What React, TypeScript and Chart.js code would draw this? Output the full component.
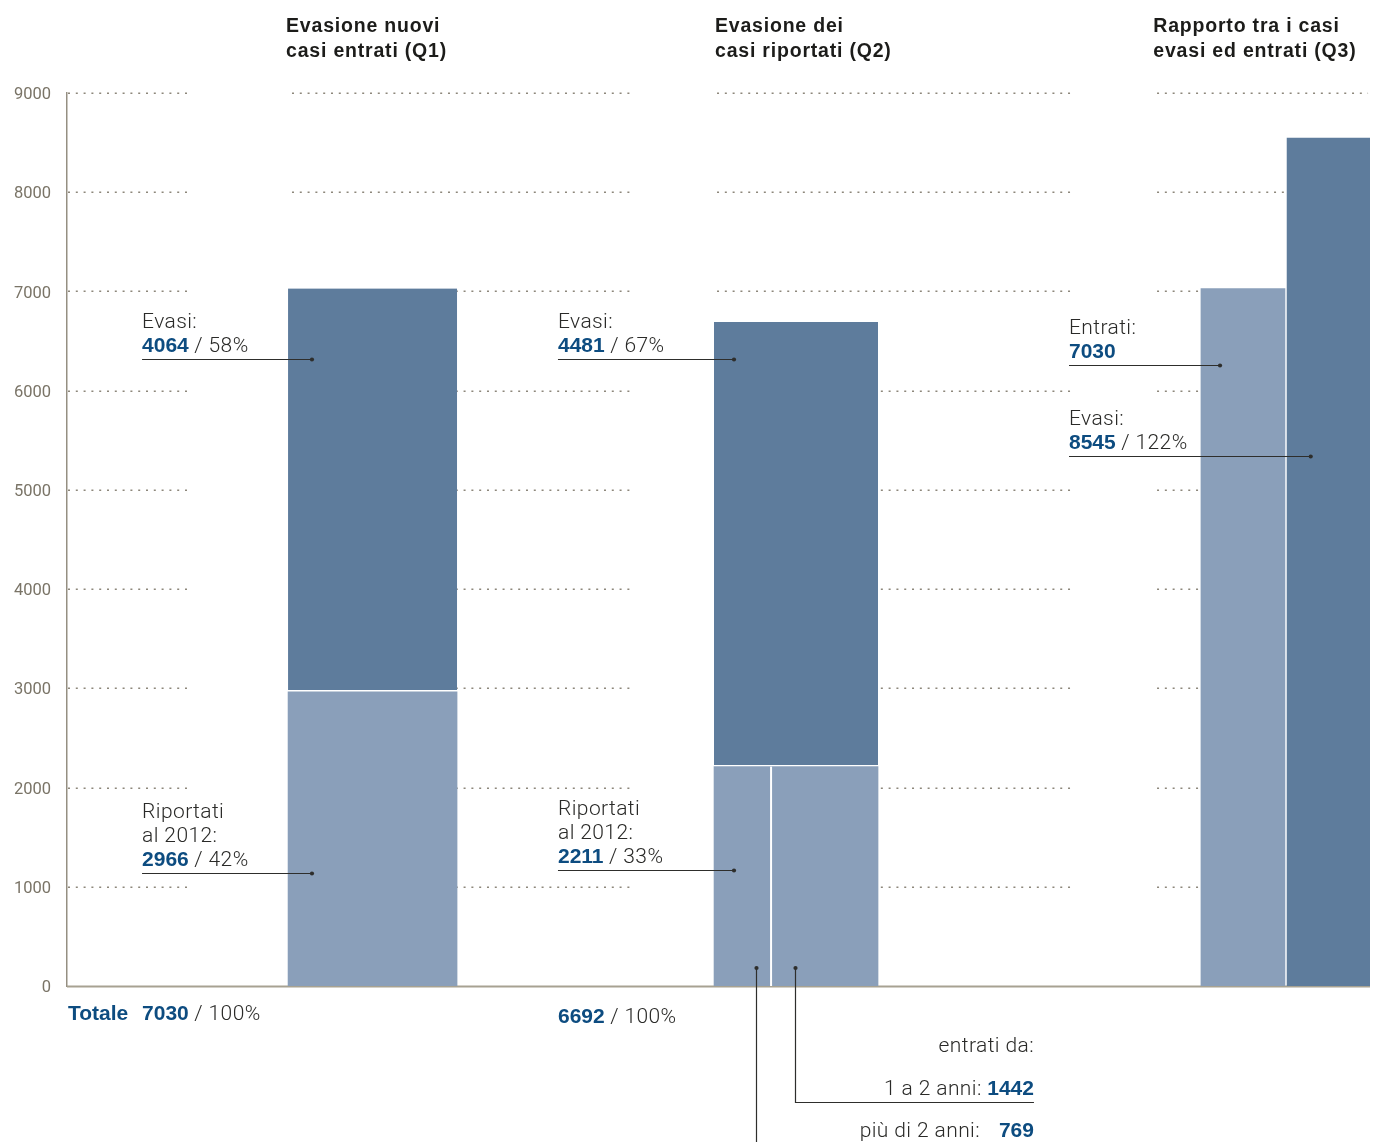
import React, { useEffect, useRef } from "react";
import { Chart, registerables } from "chart.js";

Chart.register(...registerables);

// ---------------- data ----------------
const panelTitles: string[][] = [
  ["Evasione nuovi", "casi entrati (Q1)"],
  ["Evasione dei", "casi riportati (Q2)"],
  ["Rapporto tra i casi", "evasi ed entrati (Q3)"],
];
const stackGroups = ["Q1", "Q2"];
const riportatiLabel = ["Riportati", "al 2012:"];
const evasiLabel = "Evasi:";
const riportatiValues = [2966, 2211];
const evasiValues = [4064, 4481];
const q2AgeHeading = "entrati da:";
const q2AgeLabels = ["più di 2 anni:", "1 a 2 anni:"];
const q2AgeValues = [769, 1442];
const q3Labels = ["Entrati:", "Evasi:"];
const q3Values = [7030, 8545];
const totalLabel = "Totale";
const yTickMin = 0;
const yTickMax = 9000;
const yTickStep = 1000;

// ---------------- styles & layout ----------------
const W = 1374;
const H = 1142;
const LIGHT = "#8a9fba";
const DARK = "#5e7c9c";
const BLUE = "#0d4c80";
const TEXT = "#2a2a28";
const TITLE = "#1c1c1a";
const TICK = "#7a7467";
const GRID = "#8d877b";
const AXIS = "#958f82";
const BASE = "#a7a292";
const LEADER = "#2e2e2c";
const LIGHT_FONT = "Roboto, 'Liberation Sans', sans-serif";
const BOLD_FONT = "'Liberation Sans', Arial, sans-serif";

// positions on the hidden x axis (0–100 across the plot area)
const GROUP_X: Record<string, number> = { Q1: 23.45, Q2: 55.95 };
const GROUP_W: Record<string, number> = { Q1: 169, Q2: 164 };
const Q3_X = [90.25, 96.82];
const Q3_W = [84, 83];
const GRID_SEGMENTS = [
  [0, 9.44],
  [17.19, 43.28],
  [49.81, 77.05],
  [83.58, 99.85],
];
const TITLE_X = [16.81, 49.73, 83.37];
const CALLOUT_TEXT_X = [5.76, 37.68, 76.9];
const CALLOUT_DOT_X = [18.8, 51.19];
const CALLOUT_TOP_Y = [6320, 6320];
const CALLOUT_BOTTOM_Y = [1142, 1166];
const Q3_DOT_X = [88.49, 95.45];
const Q3_LINE_Y = [6259, 5345];
const Q2_AGE_DOT_X = [52.85, 55.89];
const BOTTOM_RIGHT_X = 74.21;
const BOTTOM_GAP_X = 70.07;

type Part = { t: string; b?: boolean };
type Callout = { textX: number; dotX: number; lineY: number; lines: Part[][] };

const pct = (v: number, tot: number) => Math.round((v / tot) * 100);

function buildCallouts(): Callout[] {
  const out: Callout[] = [];
  stackGroups.forEach((_, i) => {
    const total = riportatiValues[i] + evasiValues[i];
    out.push({
      textX: CALLOUT_TEXT_X[i],
      dotX: CALLOUT_DOT_X[i],
      lineY: CALLOUT_TOP_Y[i],
      lines: [
        [{ t: evasiLabel }],
        [{ t: String(evasiValues[i]), b: true }, { t: ` / ${pct(evasiValues[i], total)}%` }],
      ],
    });
    out.push({
      textX: CALLOUT_TEXT_X[i],
      dotX: CALLOUT_DOT_X[i],
      lineY: CALLOUT_BOTTOM_Y[i],
      lines: [
        ...riportatiLabel.map((l) => [{ t: l }]),
        [{ t: String(riportatiValues[i]), b: true }, { t: ` / ${pct(riportatiValues[i], total)}%` }],
      ],
    });
  });
  out.push({
    textX: CALLOUT_TEXT_X[2],
    dotX: Q3_DOT_X[0],
    lineY: Q3_LINE_Y[0],
    lines: [[{ t: q3Labels[0] }], [{ t: String(q3Values[0]), b: true }]],
  });
  out.push({
    textX: CALLOUT_TEXT_X[2],
    dotX: Q3_DOT_X[1],
    lineY: Q3_LINE_Y[1],
    lines: [
      [{ t: q3Labels[1] }],
      [{ t: String(q3Values[1]), b: true }, { t: ` / ${pct(q3Values[1], q3Values[0])}%` }],
    ],
  });
  return out;
}

function setFont(ctx: CanvasRenderingContext2D, bold?: boolean) {
  if (bold) {
    ctx.font = `bold 21px ${BOLD_FONT}`;
    (ctx as any).letterSpacing = "0px";
    ctx.fillStyle = BLUE;
  } else {
    ctx.font = `300 21px ${LIGHT_FONT}`;
    (ctx as any).letterSpacing = "0.4px";
    ctx.fillStyle = TEXT;
  }
}

function richWidth(ctx: CanvasRenderingContext2D, parts: Part[]) {
  let w = 0;
  parts.forEach((p) => {
    setFont(ctx, p.b);
    w += ctx.measureText(p.t).width;
  });
  return w;
}

function drawRich(ctx: CanvasRenderingContext2D, parts: Part[], x: number, y: number, align: "left" | "right" = "left") {
  let cx = align === "right" ? x - richWidth(ctx, parts) : x;
  ctx.textAlign = "left";
  ctx.textBaseline = "alphabetic";
  parts.forEach((p) => {
    setFont(ctx, p.b);
    ctx.fillText(p.t, cx, y);
    cx += ctx.measureText(p.t).width;
  });
  (ctx as any).letterSpacing = "0px";
}

function dot(ctx: CanvasRenderingContext2D, x: number, y: number) {
  ctx.beginPath();
  ctx.arc(x, y, 2.1, 0, Math.PI * 2);
  ctx.fillStyle = LEADER;
  ctx.fill();
}

const decorPlugin = {
  id: "decor",
  beforeDatasetsDraw(chart: any) {
    const { ctx, chartArea, scales } = chart;
    const x = scales.x;
    const y = scales.y;
    ctx.save();
    ctx.strokeStyle = GRID;
    ctx.lineWidth = 1.5;
    ctx.setLineDash([2, 5.8]);
    y.ticks.forEach((t: any) => {
      if (t.value === yTickMin) return;
      const py = Math.round(y.getPixelForValue(t.value)) + 0.25;
      GRID_SEGMENTS.forEach(([a, b]) => {
        ctx.beginPath();
        ctx.moveTo(x.getPixelForValue(a) + 1, py);
        ctx.lineTo(x.getPixelForValue(b), py);
        ctx.stroke();
      });
    });
    ctx.setLineDash([]);
    const y0 = y.getPixelForValue(yTickMin);
    ctx.strokeStyle = BASE;
    ctx.lineWidth = 2;
    ctx.beginPath();
    ctx.moveTo(chartArea.left, y0 + 0.5);
    ctx.lineTo(chartArea.right, y0 + 0.5);
    ctx.stroke();
    ctx.restore();
  },
  afterDatasetsDraw(chart: any) {
    const { ctx } = chart;
    const idx = chart.data.datasets.findIndex((d: any) => d.key === "Q2-riportati");
    const el = chart.getDatasetMeta(idx).data[0];
    if (!el) return;
    const { x, y, base, width } = el.getProps(["x", "y", "base", "width"], true);
    const left = x - width / 2;
    const sx = left + (width * q2AgeValues[0]) / (q2AgeValues[0] + q2AgeValues[1]);
    ctx.save();
    ctx.strokeStyle = "#ffffff";
    ctx.lineWidth = 2;
    ctx.beginPath();
    ctx.moveTo(sx, y);
    ctx.lineTo(sx, base);
    ctx.stroke();
    ctx.restore();
  },
  afterDraw(chart: any) {
    const { ctx, scales } = chart;
    const x = scales.x;
    const y = scales.y;
    const y0 = y.getPixelForValue(yTickMin);
    ctx.save();

    // panel titles
    ctx.font = `bold 19.5px ${BOLD_FONT}`;
    ctx.fillStyle = TITLE;
    ctx.textAlign = "left";
    ctx.textBaseline = "alphabetic";
    (ctx as any).letterSpacing = "0.8px";
    panelTitles.forEach((lines, i) => {
      lines.forEach((l, j) => ctx.fillText(l, x.getPixelForValue(TITLE_X[i]), 32 + j * 24.5));
    });
    (ctx as any).letterSpacing = "0px";

    // callouts
    buildCallouts().forEach((c) => {
      const tx = x.getPixelForValue(c.textX);
      const dx = x.getPixelForValue(c.dotX);
      const ly = Math.round(y.getPixelForValue(c.lineY)) + 0.5;
      const n = c.lines.length;
      c.lines.forEach((parts, k) => drawRich(ctx, parts, tx, ly - 8 - (n - 1 - k) * 24));
      ctx.strokeStyle = LEADER;
      ctx.lineWidth = 1.2;
      ctx.beginPath();
      ctx.moveTo(tx, ly);
      ctx.lineTo(dx, ly);
      ctx.stroke();
      dot(ctx, dx, ly);
    });

    // totals
    const t1 = stackGroups.map((_, i) => riportatiValues[i] + evasiValues[i]);
    drawRich(ctx, [{ t: totalLabel, b: true }], chart.chartArea.left + 1, y0 + 34);
    drawRich(ctx, [{ t: String(t1[0]), b: true }, { t: " / 100%" }], x.getPixelForValue(CALLOUT_TEXT_X[0]), y0 + 34);
    drawRich(ctx, [{ t: String(t1[1]), b: true }, { t: " / 100%" }], x.getPixelForValue(CALLOUT_TEXT_X[1]), y0 + 37);

    // Q2 age breakdown
    const rx = x.getPixelForValue(BOTTOM_RIGHT_X);
    const dy = y0 - 18;
    const d0 = Math.round(x.getPixelForValue(Q2_AGE_DOT_X[0])) + 0.5;
    const d1 = Math.round(x.getPixelForValue(Q2_AGE_DOT_X[1])) + 0.5;
    ctx.strokeStyle = LEADER;
    ctx.lineWidth = 1.2;
    ctx.beginPath();
    ctx.moveTo(d0, dy);
    ctx.lineTo(d0, H);
    ctx.stroke();
    const hy = Math.round(y0 + 116) + 0.5;
    ctx.beginPath();
    ctx.moveTo(d1, dy);
    ctx.lineTo(d1, hy);
    ctx.lineTo(rx, hy);
    ctx.stroke();
    dot(ctx, d0, dy);
    dot(ctx, d1, dy);

    drawRich(ctx, [{ t: q2AgeHeading }], rx, y0 + 66, "right");
    drawRich(ctx, [{ t: q2AgeLabels[1] + " " }, { t: String(q2AgeValues[1]), b: true }], rx, y0 + 109, "right");
    drawRich(ctx, [{ t: q2AgeLabels[0] }], x.getPixelForValue(BOTTOM_GAP_X), y0 + 151, "right");
    drawRich(ctx, [{ t: String(q2AgeValues[0]), b: true }], rx, y0 + 151, "right");

    ctx.restore();
  },
};

function buildDatasets() {
  const ds: any[] = [];
  stackGroups.forEach((g, i) => {
    ds.push({
      key: `${g}-riportati`,
      label: `${g} Riportati al 2012`,
      data: [{ x: GROUP_X[g], y: riportatiValues[i] }],
      backgroundColor: LIGHT,
      borderWidth: 0,
      barThickness: GROUP_W[g],
      grouped: false,
    });
    ds.push({
      key: `${g}-evasi`,
      label: `${g} Evasi`,
      data: [{ x: GROUP_X[g], y: evasiValues[i] }],
      backgroundColor: DARK,
      borderColor: "#ffffff",
      borderWidth: { top: 0, left: 0, right: 0, bottom: 2 },
      borderSkipped: false,
      barThickness: GROUP_W[g],
      grouped: false,
    });
  });
  q3Labels.forEach((l, i) => {
    ds.push({
      key: `Q3-${i}`,
      label: `Q3 ${l}`,
      data: [{ x: Q3_X[i], y: q3Values[i] }],
      backgroundColor: i === 0 ? LIGHT : DARK,
      borderWidth: 0,
      barThickness: Q3_W[i],
      grouped: false,
    });
  });
  return ds;
}

export default function App() {
  const ref = useRef<HTMLCanvasElement>(null);
  useEffect(() => {
    let chart: Chart | null = null;
    let cancelled = false;
    const fonts = (document as any).fonts;
    const ready = fonts
      ? Promise.all([
          fonts.load(`300 21px Roboto`),
          fonts.load(`400 16px Roboto`),
          fonts.load(`bold 21px 'Liberation Sans'`),
        ]).catch(() => null)
      : Promise.resolve(null);
    ready.then(() => {
      if (cancelled || !ref.current) return;
      chart = new Chart(ref.current, {
        type: "bar",
        data: { datasets: buildDatasets() },
        options: {
          animation: false,
          responsive: false,
          devicePixelRatio: 1,
          layout: { padding: { top: 93, bottom: H - 986, left: 0, right: 4 } },
          plugins: { legend: { display: false }, tooltip: { enabled: false } },
          scales: {
            x: {
              type: "linear",
              min: 0,
              max: 100,
              offset: false,
              display: false,
              grid: { display: false },
            },
            y: {
              stacked: true,
              min: yTickMin,
              max: yTickMax,
              ticks: {
                stepSize: yTickStep,
                color: TICK,
                padding: 16,
                font: { family: "Roboto", size: 16.5, weight: "400" },
                callback: (v: any) => String(v),
                labelOffset: (c: any) => (c.index === 0 ? -4 : 2),
              },
              grid: { display: false, drawTicks: false },
              border: { display: true, color: AXIS, width: 1.5 },
              afterFit: (s: any) => {
                s.width = 67;
              },
            },
          },
        } as any,
        plugins: [decorPlugin],
      });
    });
    return () => {
      cancelled = true;
      if (chart) chart.destroy();
    };
  }, []);
  return (
    <div style={{ position: "absolute", left: 0, top: 0, width: W, height: H, background: "#fff" }}>
      <canvas ref={ref} width={W} height={H} style={{ display: "block", width: W, height: H }} />
    </div>
  );
}
